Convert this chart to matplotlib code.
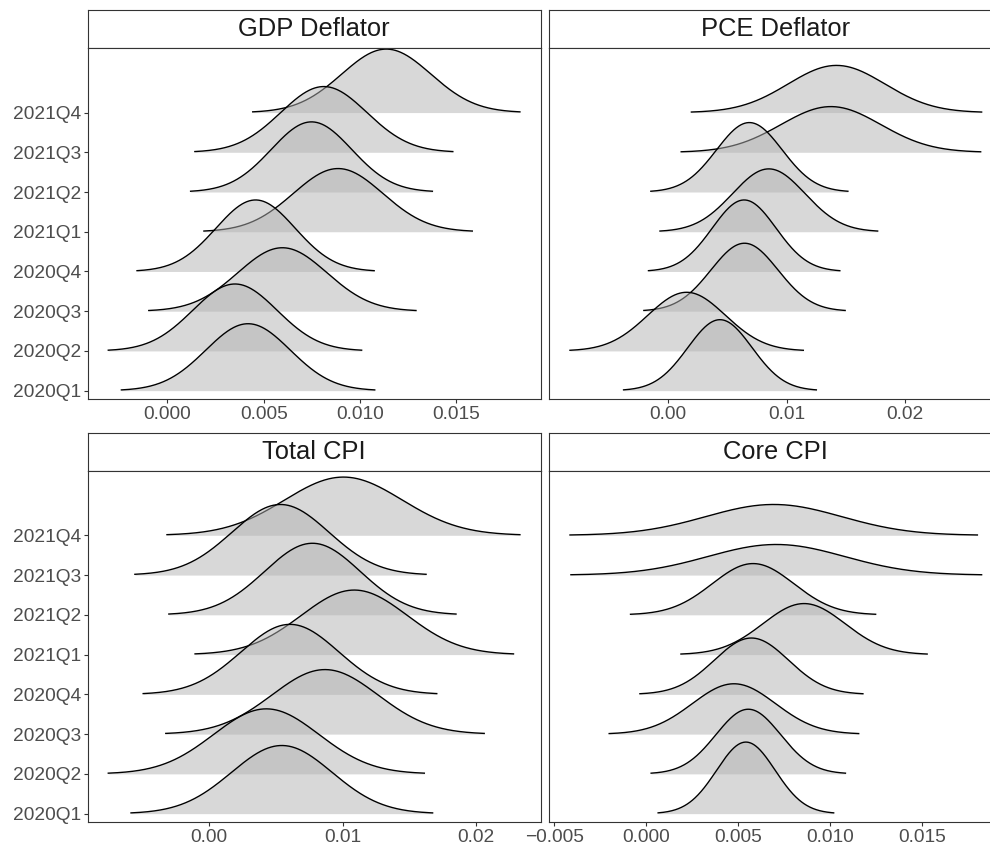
import numpy as np
import matplotlib
matplotlib.use("Agg")
import matplotlib.pyplot as plt

plt.rcParams['font.family'] = ['Liberation Sans', 'DejaVu Sans']

# Data: each ridge is a normal density (mean, sd), drawn over mean +/- 3 sd
quarters = ['2020Q1', '2020Q2', '2020Q3', '2020Q4',
            '2021Q1', '2021Q2', '2021Q3', '2021Q4']

gdp_mean = [0.00419, 0.00351, 0.00597, 0.00458, 0.00886, 0.00748, 0.00812, 0.01136]
gdp_sd = [0.00219, 0.00219, 0.00231, 0.00205, 0.00232, 0.00209, 0.00223, 0.00231]

pce_mean = [0.00438, 0.00157, 0.00645, 0.00642, 0.00850, 0.00686, 0.01374, 0.01421]
pce_sd = [0.00271, 0.00328, 0.00283, 0.00269, 0.00306, 0.00277, 0.00421, 0.00408]

cpi_mean = [0.00545, 0.00429, 0.00868, 0.00606, 0.01087, 0.00774, 0.00535, 0.01006]
cpi_sd = [0.00376, 0.00394, 0.00397, 0.00366, 0.00397, 0.00358, 0.00363, 0.00440]

core_mean = [0.00541, 0.00554, 0.00476, 0.00571, 0.00857, 0.00580, 0.00706, 0.00692]
core_sd = [0.00159, 0.00176, 0.00226, 0.00202, 0.00223, 0.00222, 0.00372, 0.00369]

titles = ['GDP Deflator', 'PCE Deflator', 'Total CPI', 'Core CPI']
gdp_ticks = [0.0, 0.005, 0.010, 0.015]
gdp_labels = ['0.000', '0.005', '0.010', '0.015']
pce_ticks = [0.0, 0.01, 0.02]
pce_labels = ['0.00', '0.01', '0.02']
cpi_ticks = [0.0, 0.01, 0.02]
cpi_labels = ['0.00', '0.01', '0.02']
core_ticks = [-0.005, 0.0, 0.005, 0.010, 0.015]
core_labels = ['\u22120.005', '0.000', '0.005', '0.010', '0.015']

panels = [
    (gdp_mean, gdp_sd, gdp_ticks, gdp_labels),
    (pce_mean, pce_sd, pce_ticks, pce_labels),
    (cpi_mean, cpi_sd, cpi_ticks, cpi_labels),
    (core_mean, core_sd, core_ticks, core_labels),
]

K = 3.0          # curve range in sd
SCALE = 1.8      # tallest ridge height in row units (per panel)
EDGE = '#333333'

W, H = 990, 850
fig = plt.figure(figsize=(W / 100, H / 100), dpi=100)


def rect(x0, y0, x1, y1):
    return [x0 / W, 1 - y1 / H, (x1 - x0) / W, (y1 - y0) / H]


cols = [(87.7, 540.5), (549.4, 1002.2)]
rows = [((10.3, 48.3), (48.3, 399.0)), ((433.0, 471.0), (471.0, 822.0))]

# shared y range: top of the tallest ridge over all panels
tops = []
for m, s, _, _ in panels:
    smin = min(s)
    for i, sd in enumerate(s):
        tops.append(i + 1 + SCALE * smin / sd)
ytop = max(tops) + 0.02

for p, (m, s, ticks, labels) in enumerate(panels):
    r, c = divmod(p, 2)
    (sy0, sy1), (py0, py1) = rows[r]
    x0, x1 = cols[c]

    # strip
    sax = fig.add_axes(rect(x0, sy0, x1, sy1))
    sax.set_xticks([]); sax.set_yticks([])
    for sp in sax.spines.values():
        sp.set_color(EDGE); sp.set_linewidth(0.8)
    if c == 1:
        sax.spines['right'].set_visible(False)
    sax.text(0.5, 0.5, titles[p], ha='center', va='center', fontsize=18.4,
             color='#1a1a1a', transform=sax.transAxes)

    ax = fig.add_axes(rect(x0, py0, x1, py1))
    smin = min(s)
    lo = min(mm - K * sd for mm, sd in zip(m, s))
    hi = max(mm + K * sd for mm, sd in zip(m, s))
    pad = 0.05 * (hi - lo)

    z = 2
    for i in reversed(range(len(quarters))):
        xs = np.linspace(m[i] - K * s[i], m[i] + K * s[i], 400)
        h = SCALE * smin / s[i] * np.exp(-0.5 * ((xs - m[i]) / s[i]) ** 2)
        base = i + 1
        ax.fill_between(xs, base, base + h, color='#b3b3b3', alpha=0.5,
                        lw=0, zorder=z)
        ax.plot(xs, base + h, color='black', lw=1.0, zorder=z + 1)
        z += 2

    ax.set_xlim(lo - pad, hi + pad)
    ax.set_ylim(0.79, ytop)
    ax.set_xticks(ticks)
    ax.set_xticklabels(labels)
    ax.set_yticks(range(1, len(quarters) + 1))
    if c == 0:
        ax.set_yticklabels(quarters)
    else:
        ax.tick_params(axis='y', left=False, labelleft=False)
    ax.tick_params(direction='out', length=3, width=0.8, color=EDGE,
                   labelsize=13.8, labelcolor='#4d4d4d')
    ax.tick_params(axis='x', pad=2.2)
    ax.tick_params(axis='y', pad=1.5)
    for sp in ax.spines.values():
        sp.set_color(EDGE); sp.set_linewidth(0.8)
        sp.set_zorder(100)
    if c == 1:
        ax.spines['right'].set_visible(False)

fig.savefig('out.png', dpi=100, facecolor='white')
